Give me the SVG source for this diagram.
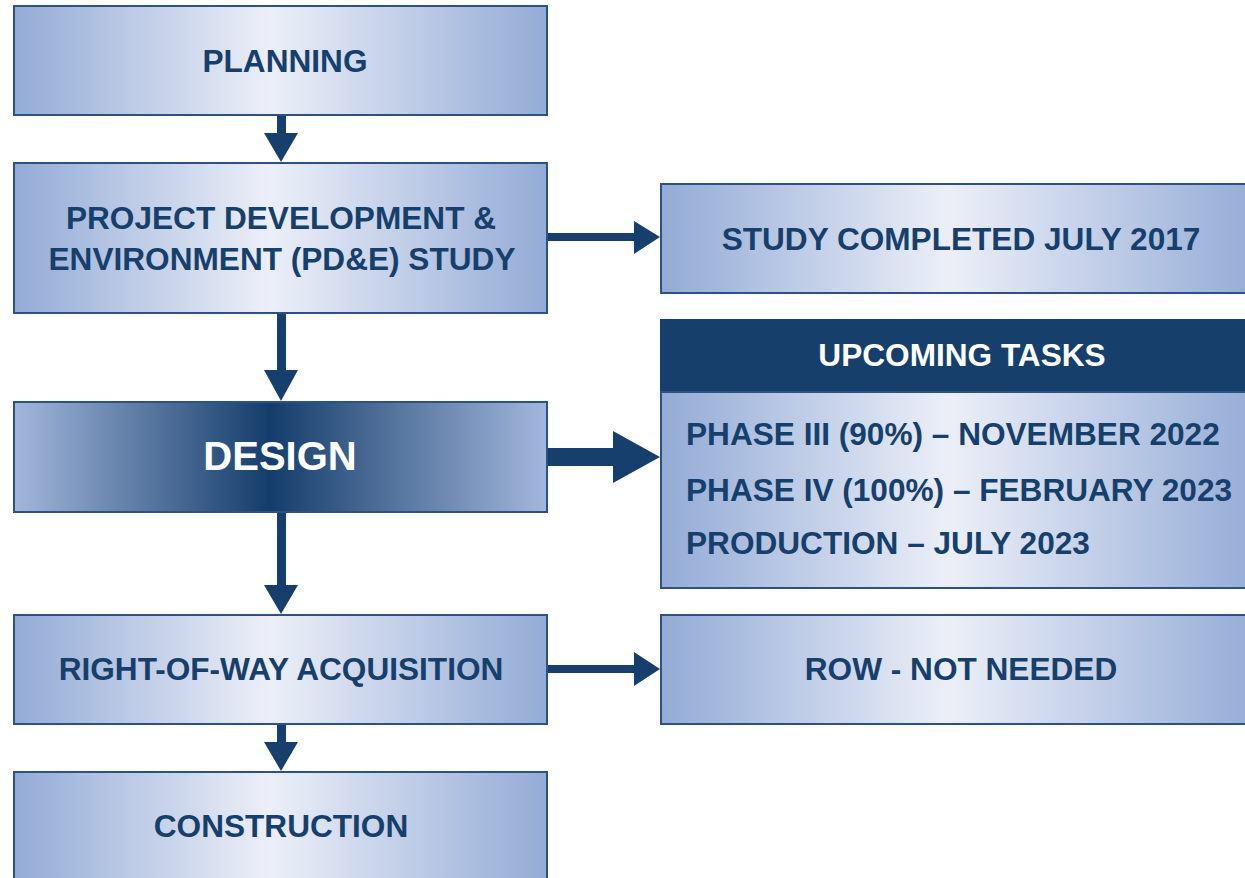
<svg xmlns="http://www.w3.org/2000/svg" width="1245" height="878" viewBox="0 0 1245 878">
<defs>
<linearGradient id="lg" x1="0" y1="0" x2="1" y2="0">
<stop offset="0" stop-color="#93abd6"/>
<stop offset="0.48" stop-color="#eceff8"/>
<stop offset="1" stop-color="#93abd6"/>
</linearGradient>
<linearGradient id="dg" x1="0" y1="0" x2="1" y2="0">
<stop offset="0" stop-color="#a3b7dc"/>
<stop offset="0.48" stop-color="#143d6b"/>
<stop offset="1" stop-color="#a3b7dc"/>
</linearGradient>
</defs>
<style>
.box{fill:url(#lg);stroke:#2d5182;stroke-width:2}
.dbox{fill:url(#dg);stroke:#2d5182;stroke-width:2}
.hdr{fill:#163f6c;stroke:#163f6c;stroke-width:2}
.t{font-family:"Liberation Sans",Arial,sans-serif;font-weight:bold;fill:#173f6c;font-size:31.6px;text-anchor:middle}
.w{fill:#ffffff}
.l{text-anchor:start}
.c{fill:#173f6d}
</style>
<rect width="1245" height="878" fill="#ffffff"/>
<g id="connectors">
<rect class="c" x="277" y="114" width="9" height="20"/>
<polygon class="c" points="264,133 298,133 281,162"/>
<rect class="c" x="277" y="312" width="9" height="59"/>
<polygon class="c" points="264,370 298,370 281,401"/>
<rect class="c" x="277" y="511" width="9" height="76"/>
<polygon class="c" points="264,585 298,585 281,614"/>
<rect class="c" x="277" y="723" width="9" height="21"/>
<polygon class="c" points="264,742 298,742 281,771"/>
<rect class="c" x="546" y="233" width="90" height="8"/>
<polygon class="c" points="634,221 660,237 634,254"/>
<rect class="c" x="546" y="448" width="70" height="18"/>
<polygon class="c" points="613,431 660,457 613,483"/>
<rect class="c" x="546" y="665" width="90" height="8"/>
<polygon class="c" points="634,652 660,669 634,686"/>
</g>
<g id="planning">
<rect class="box" x="14" y="6" width="533" height="109"/>
<text class="t" x="285" y="72">PLANNING</text>
</g>
<g id="pde">
<rect class="box" x="14" y="163" width="533" height="150"/>
<text class="t" x="281" y="229">PROJECT DEVELOPMENT &amp;</text>
<text class="t" x="282" y="270">ENVIRONMENT (PD&amp;E) STUDY</text>
</g>
<g id="design">
<rect class="dbox" x="14" y="402" width="533" height="110"/>
<text class="t w" x="280" y="470" style="font-size:40px">DESIGN</text>
</g>
<g id="row">
<rect class="box" x="14" y="615" width="533" height="109"/>
<text class="t" x="281" y="680">RIGHT-OF-WAY ACQUISITION</text>
</g>
<g id="construction">
<rect class="box" x="14" y="772" width="533" height="120"/>
<text class="t" x="281" y="837">CONSTRUCTION</text>
</g>
<g id="study">
<rect class="box" x="661" y="184" width="600" height="109"/>
<text class="t" x="961" y="250">STUDY COMPLETED JULY 2017</text>
</g>
<g id="upcoming">
<rect class="hdr" x="661" y="320" width="600" height="72"/>
<text class="t w" x="962" y="366">UPCOMING TASKS</text>
<rect class="box" x="661" y="392" width="600" height="196"/>
<text class="t l" x="686" y="445">PHASE III (90%) – NOVEMBER 2022</text>
<text class="t l" x="686" y="501">PHASE IV (100%) – FEBRUARY 2023</text>
<text class="t l" x="686" y="554">PRODUCTION – JULY 2023</text>
</g>
<g id="rownotneeded">
<rect class="box" x="661" y="615" width="600" height="109"/>
<text class="t" x="961" y="680">ROW - NOT NEEDED</text>
</g>
</svg>
